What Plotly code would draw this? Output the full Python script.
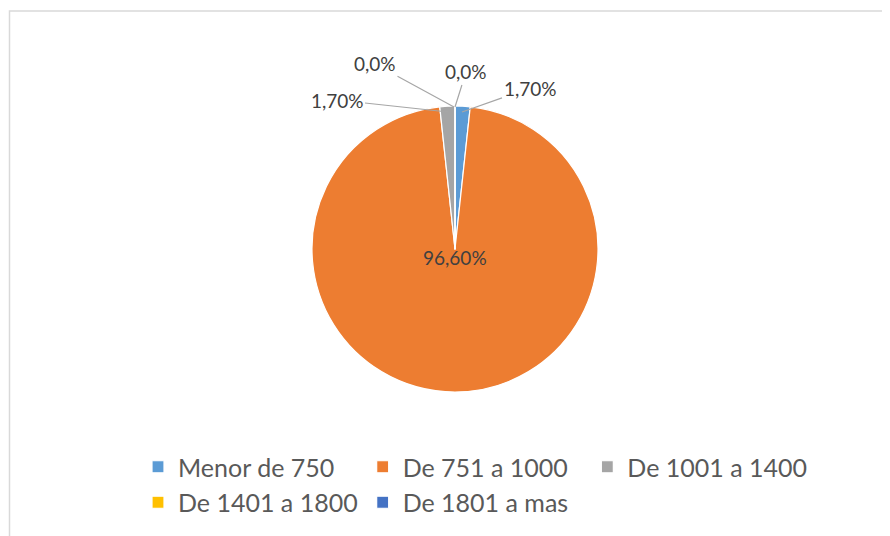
import plotly.graph_objects as go

categories = ["Menor de 750", "De 751 a 1000", "De 1001 a 1400", "De 1401 a 1800", "De 1801 a mas"]
values = [1.70, 96.60, 1.70, 0.0, 0.0]
value_labels = ["1,70%", "96,60%", "1,70%", "0,0%", "0,0%"]
colors = ["#5B9BD5", "#ED7D31", "#A5A5A5", "#FFC000", "#4472C4"]

W, H = 890, 536
ML, MR = 40, 40
PW = W - ML - MR
OFF = 8  # page body margin

def px(x):
    return (x - OFF - ML) / PW

def py(y):
    return (H - (y - OFF)) / H

FONT = "Lato, Carlito, sans-serif"

fig = go.Figure()
fig.add_trace(go.Pie(
    labels=categories,
    values=values,
    text=value_labels,
    textinfo="none",
    marker=dict(colors=colors, line=dict(color="white", width=1.2)),
    sort=False,
    direction="clockwise",
    rotation=0,
    hole=0,
    domain=dict(x=[px(230), px(680)], y=[py(392), py(106)]),
))

# main slice label
fig.add_annotation(
    x=px(455), y=py(258), xref="paper", yref="paper",
    text=value_labels[1], showarrow=False,
    font=dict(family=FONT, size=19, color="#404040"),
)

# leader-line labels for the small slices
ann_specs = [
    # (value index, point x, point y, text center x, text center y)
    (0, 462, 112, 530, 88),
    (2, 448, 112, 337, 100),
    (3, 454, 107, 375, 64),
    (4, 455, 107, 466, 72),
]
for idx, x0, y0, tx, ty in ann_specs:
    fig.add_annotation(
        x=px(x0), y=py(y0), xref="paper", yref="paper",
        ax=tx - x0, ay=ty - y0, axref="pixel", ayref="pixel",
        text=value_labels[idx], showarrow=True, arrowhead=0, arrowwidth=1.2,
        arrowcolor="#A6A6A6", standoff=0,
        font=dict(family=FONT, size=19, color="#404040"),
    )

# chart-area border (left and top)
fig.add_shape(type="rect", xref="paper", yref="paper",
              x0=px(9.5), x1=px(W + 30), y0=py(H + 30), y1=py(11),
              line=dict(color="#D9D9D9", width=1.5), fillcolor="rgba(0,0,0,0)", layer="below")

fig.update_layout(
    width=W, height=H,
    margin=dict(l=ML, r=MR, t=0, b=0),
    paper_bgcolor="white", plot_bgcolor="white",
    showlegend=True,
    legend=dict(
        orientation="h",
        x=px(138), xanchor="left",
        y=py(444), yanchor="top",
        font=dict(family=FONT, size=25, color="#595959"),
        traceorder="normal",
        bgcolor="rgba(0,0,0,0)",
    ),
)

fig.write_html("out.html")
